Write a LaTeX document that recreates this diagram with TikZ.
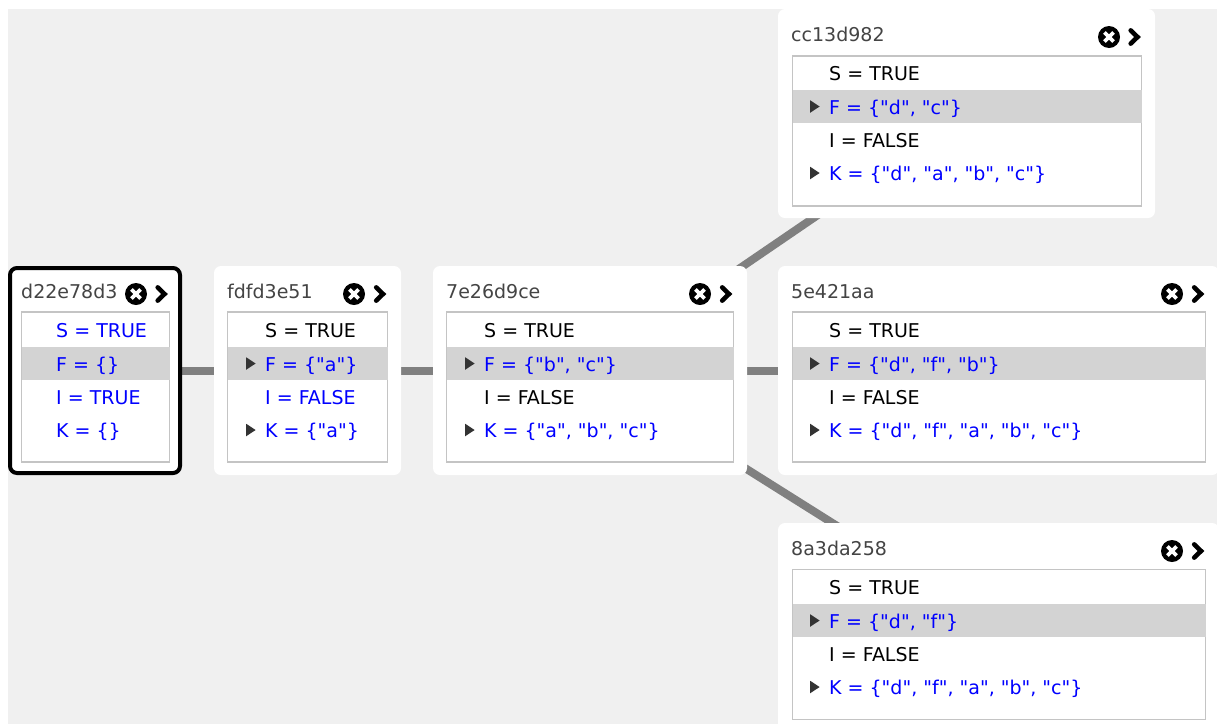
\documentclass[tikz,border=0pt]{standalone}
\usepackage{fontspec}
\newfontfamily\statefont{DejaVu Sans}
\usetikzlibrary{backgrounds,shapes.geometric}
\definecolor{canvas}{HTML}{F0F0F0}
\definecolor{linkgrey}{HTML}{808080}
\definecolor{boxgrey}{HTML}{C4C4C4}
\definecolor{rowgrey}{HTML}{D3D3D3}
\definecolor{titlegrey}{HTML}{444444}
\tikzset{
  panel/.style = {rectangle, anchor=north west, fill=white, rounded corners=7pt,
    inner sep=0pt, outer sep=0pt, minimum height=209pt},
  chosen/.style = {panel, draw=black, line width=4pt, minimum height=205pt},
  table/.style = {rectangle, anchor=north west, fill=white, draw=boxgrey,
    line width=1.5pt, inner sep=0pt, outer sep=0pt, minimum height=150pt},
  rowbar/.style = {rectangle, anchor=north west, fill=rowgrey, inner sep=0pt,
    outer sep=0pt, minimum height=33pt},
  hash/.style = {anchor=base west, inner sep=0pt, text=titlegrey,
    font=\statefont\fontsize{19}{22}\selectfont},
  same/.style = {anchor=base west, inner sep=0pt, text=black,
    font=\statefont\fontsize{19}{22}\selectfont},
  diff/.style = {same, text=blue},
  opener/.style = {isosceles triangle, isosceles triangle stretches, fill=black!80,
    inner sep=0pt, outer sep=0pt, minimum width=12.5pt, minimum height=9.5pt},
  closer/.style = {circle, fill=black, inner sep=0pt, outer sep=0pt, minimum size=22pt,
    path picture={\draw[white, line width=3.8pt]
      ([shift={(-4.6pt,-4.6pt)}]path picture bounding box.center) -- ([shift={(4.6pt,4.6pt)}]path picture bounding box.center)
      ([shift={(-4.6pt,4.6pt)}]path picture bounding box.center) -- ([shift={(4.6pt,-4.6pt)}]path picture bounding box.center);}},
  expander/.style = {rectangle, inner sep=0pt, outer sep=0pt, minimum width=15pt, minimum height=20pt,
    path picture={\draw[black, line width=4.6pt, line cap=round]
      ([shift={(-3.8pt,-6.6pt)}]path picture bounding box.center) -- ([shift={(3pt,0pt)}]path picture bounding box.center)
      -- ([shift={(-3.8pt,6.6pt)}]path picture bounding box.center);}},
  link/.style = {draw=linkgrey, line width=8pt}
}
\begin{document}
\begin{tikzpicture}[x=1pt, y=-1pt]
  \clip (0,0) rectangle (1217,724);
  % first state
  \node [chosen, minimum width=170pt] (d22) at (10,268) {};
  \node [table, minimum width=148pt] (d22tab) at (21.5,312) {};
  \node [rowbar, minimum width=148pt] (d22bar) at (21.5,347) {};
  \node [hash] (d22name) at (21,298) {d22e78d3};
  \node [closer] (d22close) at (136,294) {};
  \node [expander] (d22more) at (161.5,294) {};
  \node [diff] (d22s) at (56,337.5) {S = TRUE};
  \node [diff] (d22f) at (56,371) {F = \{\}};
  \node [diff] (d22i) at (56,404) {I = TRUE};
  \node [diff] (d22k) at (56,437) {K = \{\}};
  % second state
  \node [panel, minimum width=187pt] (fdf) at (214,266) {};
  \node [table, minimum width=160pt] (fdftab) at (227.5,312) {};
  \node [rowbar, minimum width=160pt] (fdfbar) at (227.5,347) {};
  \node [hash] (fdfname) at (227,298) {fdfd3e51};
  \node [closer] (fdfclose) at (354,294) {};
  \node [expander] (fdfmore) at (380,294) {};
  \node [same] (fdfs) at (265,337.5) {S = TRUE};
  \node [opener] (fdfopenf) at (249.5,363.5) {};
  \node [diff] (fdff) at (265,371) {F = \{"a"\}};
  \node [diff] (fdfi) at (265,404) {I = FALSE};
  \node [opener] (fdfopenk) at (249.5,430) {};
  \node [diff] (fdfk) at (265,437) {K = \{"a"\}};
  % third state
  \node [panel, minimum width=314pt] (sev) at (433,266) {};
  \node [table, minimum width=287pt] (sevtab) at (446.5,312) {};
  \node [rowbar, minimum width=287pt] (sevbar) at (446.5,347) {};
  \node [hash] (sevname) at (446,298) {7e26d9ce};
  \node [closer] (sevclose) at (700,294) {};
  \node [expander] (sevmore) at (726,294) {};
  \node [same] (sevs) at (484,337.5) {S = TRUE};
  \node [opener] (sevopenf) at (468.5,363.5) {};
  \node [diff] (sevf) at (484,371) {F = \{"b", "c"\}};
  \node [same] (sevi) at (484,404) {I = FALSE};
  \node [opener] (sevopenk) at (468.5,430) {};
  \node [diff] (sevk) at (484,437) {K = \{"a", "b", "c"\}};
  % upper branch
  \node [panel, minimum width=377pt] (ccd) at (778,9) {};
  \node [table, minimum width=349pt] (ccdtab) at (792.5,56) {};
  \node [rowbar, minimum width=349pt] (ccdbar) at (792.5,90) {};
  \node [hash] (ccdname) at (791,41) {cc13d982};
  \node [closer] (ccdclose) at (1109,37) {};
  \node [expander] (ccdmore) at (1134.5,37) {};
  \node [same] (ccds) at (829,80.5) {S = TRUE};
  \node [opener] (ccdopenf) at (813.5,106.5) {};
  \node [diff] (ccdf) at (829,114) {F = \{"d", "c"\}};
  \node [same] (ccdi) at (829,147) {I = FALSE};
  \node [opener] (ccdopenk) at (813.5,173) {};
  \node [diff] (ccdk) at (829,180) {K = \{"d", "a", "b", "c"\}};
  % middle branch
  \node [panel, minimum width=441pt] (fiv) at (778,266) {};
  \node [table, minimum width=413pt] (fivtab) at (792.5,312) {};
  \node [rowbar, minimum width=413pt] (fivbar) at (792.5,347) {};
  \node [hash] (fivname) at (791,298) {5e421aa};
  \node [closer] (fivclose) at (1172,294) {};
  \node [expander] (fivmore) at (1198,294) {};
  \node [same] (fivs) at (829,337.5) {S = TRUE};
  \node [opener] (fivopenf) at (813.5,363.5) {};
  \node [diff] (fivf) at (829,371) {F = \{"d", "f", "b"\}};
  \node [same] (fivi) at (829,404) {I = FALSE};
  \node [opener] (fivopenk) at (813.5,430) {};
  \node [diff] (fivk) at (829,437) {K = \{"d", "f", "a", "b", "c"\}};
  % lower branch
  \node [panel, minimum width=441pt] (eig) at (778,523) {};
  \node [table, minimum width=413pt] (eigtab) at (792.5,569.5) {};
  \node [rowbar, minimum width=413pt] (eigbar) at (792.5,604) {};
  \node [hash] (eigname) at (791,555) {8a3da258};
  \node [closer] (eigclose) at (1172,551) {};
  \node [expander] (eigmore) at (1198,551) {};
  \node [same] (eigs) at (829,594.5) {S = TRUE};
  \node [opener] (eigopenf) at (813.5,620.5) {};
  \node [diff] (eigf) at (829,628) {F = \{"d", "f"\}};
  \node [same] (eigi) at (829,661) {I = FALSE};
  \node [opener] (eigopenk) at (813.5,687) {};
  \node [diff] (eigk) at (829,694) {K = \{"d", "f", "a", "b", "c"\}};
  % links run behind the panels
  \begin{pgfonlayer}{background}
    \fill [canvas] (8,9) rectangle (1217,724);
    \draw [link] (d22.center) -- (fdf.center);
    \draw [link] (fdf.center) -- (sev.center);
    \draw [link] (sev.center) -- (fiv.center);
    \draw [link] (sev.center) -- (ccd.center);
    \draw [link] (sev.center) -- (eig.center);
  \end{pgfonlayer}
\end{tikzpicture}
\end{document}
